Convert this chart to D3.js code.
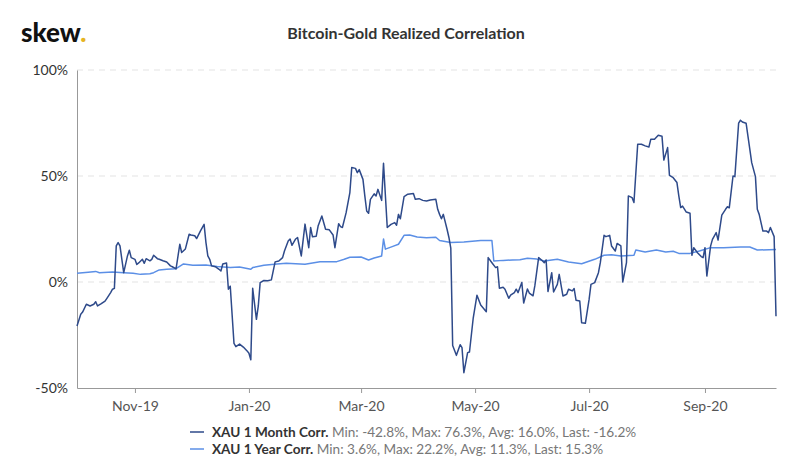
<!DOCTYPE html>
<html>
<head>
<meta charset="utf-8">
<script src="https://cdn.jsdelivr.net/npm/d3@7"></script>
<style>
  html, body { margin: 0; padding: 0; background: #fff; }
  svg { display: block; font-family: Lato, "Open Sans", sans-serif; }
</style>
</head>
<body>
<svg id="chart" width="811" height="472"></svg>
<script>
// ---------- DATA ----------
const titleText = "Bitcoin-Gold Realized Correlation";

const monthDates = [
  "2019-10-01","2019-10-03","2019-10-04","2019-10-06","2019-10-08","2019-10-10","2019-10-11","2019-10-12","2019-10-14","2019-10-16",
  "2019-10-17","2019-10-19","2019-10-20","2019-10-21","2019-10-22","2019-10-23","2019-10-24","2019-10-25","2019-10-26","2019-10-28",
  "2019-10-29","2019-10-30","2019-11-01","2019-11-02","2019-11-03","2019-11-05","2019-11-06","2019-11-07","2019-11-09","2019-11-10",
  "2019-11-11","2019-11-13","2019-11-14","2019-11-16","2019-11-18","2019-11-20","2019-11-21","2019-11-23","2019-11-25","2019-11-26",
  "2019-11-28","2019-11-30","2019-12-01","2019-12-03","2019-12-04","2019-12-06","2019-12-08","2019-12-09","2019-12-10","2019-12-11",
  "2019-12-12","2019-12-14","2019-12-16","2019-12-17","2019-12-18","2019-12-20","2019-12-21","2019-12-22","2019-12-24","2019-12-25",
  "2019-12-27","2019-12-29","2019-12-31","2020-01-01","2020-01-02","2020-01-03","2020-01-05","2020-01-06","2020-01-07","2020-01-09",
  "2020-01-11","2020-01-13","2020-01-15","2020-01-17","2020-01-19","2020-01-20","2020-01-22","2020-01-23","2020-01-24","2020-01-26",
  "2020-01-27","2020-01-29","2020-01-31","2020-02-02","2020-02-03","2020-02-04","2020-02-06","2020-02-07","2020-02-09","2020-02-11",
  "2020-02-13","2020-02-15","2020-02-16","2020-02-18","2020-02-19","2020-02-20","2020-02-22","2020-02-24","2020-02-25","2020-02-27",
  "2020-02-28","2020-02-29","2020-03-02","2020-03-03","2020-03-04","2020-03-05","2020-03-06","2020-03-08","2020-03-09","2020-03-10",
  "2020-03-12","2020-03-13","2020-03-15","2020-03-17","2020-03-19","2020-03-20","2020-03-21","2020-03-22","2020-03-24","2020-03-26",
  "2020-03-29","2020-03-30","2020-04-01","2020-04-03","2020-04-05","2020-04-07","2020-04-10","2020-04-11","2020-04-12","2020-04-13",
  "2020-04-14","2020-04-16","2020-04-17","2020-04-18","2020-04-19","2020-04-21","2020-04-23","2020-04-24","2020-04-25","2020-04-27",
  "2020-04-28","2020-04-30","2020-05-02","2020-05-04","2020-05-07","2020-05-08","2020-05-10","2020-05-12","2020-05-13","2020-05-14",
  "2020-05-16","2020-05-17","2020-05-19","2020-05-20","2020-05-22","2020-05-23","2020-05-24","2020-05-26","2020-05-27","2020-05-29",
  "2020-05-30","2020-06-01","2020-06-02","2020-06-04","2020-06-06","2020-06-07","2020-06-08","2020-06-09","2020-06-11","2020-06-12",
  "2020-06-14","2020-06-15","2020-06-17","2020-06-19","2020-06-20","2020-06-22","2020-06-23","2020-06-24","2020-06-26","2020-06-27",
  "2020-06-29","2020-07-01","2020-07-02","2020-07-04","2020-07-06","2020-07-07","2020-07-09","2020-07-10","2020-07-12","2020-07-13",
  "2020-07-15","2020-07-16","2020-07-18","2020-07-19","2020-07-21","2020-07-22","2020-07-24","2020-07-25","2020-07-27","2020-07-29",
  "2020-07-31","2020-08-02","2020-08-03","2020-08-05","2020-08-07","2020-08-09","2020-08-10","2020-08-12","2020-08-13","2020-08-15",
  "2020-08-17","2020-08-18","2020-08-19","2020-08-20","2020-08-22","2020-08-24","2020-08-25","2020-08-26","2020-08-28","2020-08-30",
  "2020-08-31","2020-09-01","2020-09-02","2020-09-04","2020-09-05","2020-09-07","2020-09-08","2020-09-10","2020-09-12","2020-09-13",
  "2020-09-14","2020-09-16","2020-09-17","2020-09-19","2020-09-20","2020-09-21","2020-09-23","2020-09-25","2020-09-26","2020-09-28",
  "2020-09-29","2020-09-30","2020-10-02","2020-10-04","2020-10-05","2020-10-06","2020-10-08","2020-10-09"
];
const monthValues = [
  -20.8,-15.2,-14.2,-10.5,-11.3,-10.5,-9.3,-11.3,-10.2,-9,
  -7.7,-5,-3.4,-3,17,18.6,17,10.7,4.4,12.3,
  15,11.5,10.7,8.3,9,10.7,8.8,11,10,10.7,
  12.6,11,10.7,10,9.4,7.6,7.2,6.2,17.8,13.9,
  15.6,22.5,22.2,21.8,20.5,24,27.2,18.6,12.3,10.7,
  7.6,7.2,6,5.2,8.5,9,-3.4,-2,-29,-30.5,
  -29.3,-30.7,-32.5,-33.6,-36.7,-3,-17.6,-11.3,-0.3,0.7,
  0.6,1,9.5,9.9,11.5,14.6,19.3,20.3,17.3,20.3,
  21,12.3,27.3,16.2,25.7,21.3,21.6,26.4,31.1,24.9,
  24.6,22.2,16.2,27.5,26.1,25.7,32.7,42.2,54,53.6,
  51.6,53,48.4,40.6,33.5,32.4,39,41.6,40.6,43.7,
  38.5,56,25.7,27.2,28,26.8,31.9,29.8,40.3,41.4,
  41.7,39,39.3,38.5,38.2,38.7,39,34.3,31.9,29.8,
  31.9,24.9,21,16,-30,-34.6,-29.6,-31,-42.8,-33.3,
  -33,-17,-6.2,-10.9,-14,11.5,9.1,6.8,7.2,-2.9,
  -2.5,-3.4,-7.7,-6.2,-5,-3.4,-5,-0.2,-9.9,-3.3,
  -5.2,-6.5,-1.6,11.5,10,9.1,10.4,-4.5,4.4,-4.7,
  -1.1,3.6,-6.6,-5.8,-3.4,-4.2,-3.1,-8.6,-9,-19.2,
  -19.5,-8.2,-1.1,-0.3,4.4,9.1,22,21.4,22,17,
  14.6,18.2,17,0,9.1,40.6,39.8,37.5,65,65,
  64.2,63.7,67.3,67.3,69.2,68.8,57.5,63.4,50.3,49.2,
  46.9,40.6,35.1,35.8,33,32.4,12.6,16.2,13.8,12,
  11.5,16.2,2.8,16.9,20.1,23.3,19.8,31.5,34.3,35.5,
  35,50,49.7,74.9,76.3,75.5,74.9,62.6,56.3,49.7,
  34.3,31.9,24,24,23.3,25.7,21.4,-16.2
];

const yearDates = [
  "2019-10-01","2019-10-07","2019-10-11","2019-10-13","2019-10-20","2019-10-26","2019-10-31","2019-11-04","2019-11-09","2019-11-11",
  "2019-11-14","2019-11-18","2019-11-23","2019-11-27","2019-12-02","2019-12-09","2019-12-15","2019-12-22","2019-12-27","2020-01-02",
  "2020-01-03","2020-01-09","2020-01-16","2020-01-21","2020-01-31","2020-02-08","2020-02-17","2020-02-21","2020-02-24","2020-03-01",
  "2020-03-05","2020-03-08","2020-03-12","2020-03-13","2020-03-14","2020-03-18","2020-03-21","2020-03-24","2020-03-27","2020-03-31",
  "2020-04-05","2020-04-10","2020-04-12","2020-04-18","2020-04-25","2020-05-04","2020-05-10","2020-05-11","2020-05-16","2020-05-21",
  "2020-05-25","2020-05-29","2020-06-03","2020-06-07","2020-06-14","2020-06-20","2020-06-27","2020-07-04","2020-07-09","2020-07-13",
  "2020-07-18","2020-07-25","2020-07-26","2020-07-31","2020-08-06","2020-08-11","2020-08-15","2020-08-18","2020-08-24","2020-08-29",
  "2020-09-04","2020-09-11","2020-09-20","2020-09-25","2020-09-29","2020-10-09"
];
const yearValues = [
  4.1,4.6,5.0,4.4,4.7,4.4,4.1,3.6,3.9,4.4,
  5.7,6.0,6.3,8.5,7.9,8.0,7.3,6.8,7.1,6.0,
  6.8,7.9,8.5,8.8,8.4,9.5,9.6,10.7,11.7,11.8,
  10.4,11.3,12.3,20.3,15.5,16.8,17.8,22.0,22.2,21.2,
  20.9,21.1,19.6,18.6,18.9,19.6,19.6,9.9,10.2,10.4,
  10.5,11.2,10.8,9.9,10.7,9.4,8.6,10.7,12.6,12.9,
  12.3,12.6,15.1,14.2,15.1,14.2,14.5,13.5,13.5,14.6,
  16.2,16.2,16.5,16.5,15.1,15.3
];

const xTickDates  = ["2019-11-01","2020-01-01","2020-03-01","2020-05-01","2020-07-01","2020-09-01"];
const xTickLabels = ["Nov-19","Jan-20","Mar-20","May-20","Jul-20","Sep-20"];
const yTickValues = [-50, 0, 50, 100];
const yTickLabels = ["-50%","0%","50%","100%"];
const xDomain = ["2019-10-01","2020-10-09"];
const yDomain = [-50, 100];

const seriesNames = ["XAU 1 Month Corr.", "XAU 1 Year Corr."];
const seriesStats = [
  " Min: -42.8%, Max: 76.3%, Avg: 16.0%, Last: -16.2%",
  " Min: 3.6%, Max: 22.2%, Avg: 11.3%, Last: 15.3%"
];
const seriesColors = ["#2e4a8a", "#5b8fe6"];

// ---------- CHART ----------
const parse = d3.utcParse("%Y-%m-%d");
const svg = d3.select("#chart");
const m = { left: 77, right: 776, top: 70, bottom: 388 };

const x = d3.scaleUtc().domain(xDomain.map(parse)).range([m.left, m.right]);
const y = d3.scaleLinear().domain(yDomain).range([m.bottom, m.top]);

// logo
const logo = svg.append("text").attr("x", 21).attr("y", 42)
  .style("font-family", "Lato, sans-serif").style("font-weight", 900)
  .style("font-size", "26px").attr("fill", "#111");
logo.append("tspan").text("skew");
logo.append("tspan").attr("fill", "#e6b422").text(".");

// title
svg.append("text").attr("x", 406).attr("y", 39).attr("text-anchor", "middle")
  .style("font-family", "Lato, sans-serif").style("font-weight", 700)
  .style("font-size", "16px").attr("fill", "#333").text(titleText);

// gridlines
svg.append("g").selectAll("line").data(yTickValues.filter(v => v > yDomain[0]))
  .join("line")
  .attr("x1", m.left).attr("x2", m.right)
  .attr("y1", d => y(d)).attr("y2", d => y(d))
  .attr("stroke", "#e3e3e3").attr("stroke-width", 1)
  .attr("stroke-dasharray", "6,5");

// y axis
const yAxis = d3.axisLeft(y).tickValues(yTickValues)
  .tickFormat((d, i) => yTickLabels[i]).tickSize(0).tickPadding(9);
const gy = svg.append("g").attr("transform", `translate(${m.left},0)`).call(yAxis);
gy.select(".domain").attr("stroke", "#999");
gy.selectAll("text").style("font-family", "Lato, sans-serif").style("font-size", "14px").attr("fill", "#333");

// x axis
const xAxis = d3.axisBottom(x).tickValues(xTickDates.map(parse))
  .tickFormat((d, i) => xTickLabels[i]).tickSizeInner(5).tickSizeOuter(0).tickPadding(8);
const gx = svg.append("g").attr("transform", `translate(0,${m.bottom})`).call(xAxis);
gx.select(".domain").attr("stroke", "#999");
gx.selectAll(".tick line").attr("stroke", "#999");
gx.selectAll("text").style("font-family", "Lato, sans-serif").style("font-size", "14px").attr("fill", "#555");

// lines
const line = d3.line().x(d => x(d[0])).y(d => y(d[1]));
const yearData = yearDates.map((d, i) => [parse(d), yearValues[i]]);
const monthData = monthDates.map((d, i) => [parse(d), monthValues[i]]);

svg.append("path").datum(yearData).attr("d", line)
  .attr("fill", "none").attr("stroke", seriesColors[1]).attr("stroke-width", 1.5)
  .attr("stroke-linejoin", "round");
svg.append("path").datum(monthData).attr("d", line)
  .attr("fill", "none").attr("stroke", seriesColors[0]).attr("stroke-width", 1.5)
  .attr("stroke-linejoin", "round");

// legend
const lg = svg.append("g");
seriesNames.forEach((name, i) => {
  const ly = 432 + i * 17;
  lg.append("line").attr("x1", 190).attr("x2", 204).attr("y1", ly).attr("y2", ly)
    .attr("stroke", seriesColors[i]).attr("stroke-width", 1.5);
  const t = lg.append("text").attr("x", 212).attr("y", ly + 4.5)
    .style("font-family", "Lato, sans-serif").style("font-size", "13.6px");
  t.append("tspan").style("font-weight", 700).attr("fill", "#333").text(name);
  t.append("tspan").attr("fill", "#777").text(seriesStats[i]);
});
</script>
</body>
</html>
